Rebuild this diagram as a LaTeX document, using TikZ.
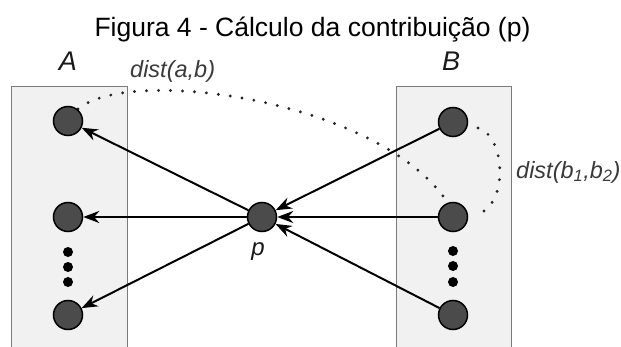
\documentclass[tikz,border=0pt]{standalone}
\usepackage{fontspec}
\setmainfont{Liberation Sans}
\usetikzlibrary{arrows.meta}
\definecolor{boxfill}{HTML}{F1F1F1}
\definecolor{boxline}{HTML}{7A7A7A}
\definecolor{nodefill}{HTML}{4B4B4B}
\definecolor{labgray}{HTML}{3A3A3A}
\tikzset{
  vtx/.style={circle, draw=black, line width=1.5pt, fill=nodefill, minimum size=29pt, inner sep=0pt},
  bigdot/.style={circle, fill=black, minimum size=10pt, inner sep=0pt},
  setbox/.style={draw=boxline, line width=1pt},
  conn/.style={line width=2pt, -{Stealth[length=16pt,width=12pt]}},
  dotline/.style={line width=3.2pt, line cap=round, dash pattern=on 0pt off 12pt, draw=black!85},
  setlabel/.style={font=\fontsize{27}{29}\selectfont\itshape, text=black!90, anchor=base},
  distlabel/.style={font=\fontsize{23.5}{26}\selectfont\itshape, text=labgray}
}
\begin{document}
\begin{tikzpicture}[x=1pt,y=-1pt]
\useasboundingbox (0,0) rectangle (621,347);
% title
\node[anchor=base, font=\fontsize{26.5}{28}\selectfont, inner sep=0pt] (title) at (312.5,37) {Figura 4 - Cálculo da contribuição (p)};
% boxes
\fill[boxfill] (11.5,87) rectangle (127.5,347);
\draw[setbox] (11.5,347) -- (11.5,87) -- (127.5,87) -- (127.5,347);
\fill[boxfill] (396,87) rectangle (511,347);
\draw[setbox] (396,347) -- (396,87) -- (511,87) -- (511,347);
% set labels
\node[setlabel, inner sep=0pt] (labA) at (68,71) {A};
\node[setlabel, inner sep=0pt] (labB) at (451,71) {B};
% vertex positions
\coordinate (a1c) at (68,121);
\coordinate (a2c) at (68,217);
\coordinate (a3c) at (68,315);
\coordinate (b1c) at (453,122);
\coordinate (b2c) at (453,217);
\coordinate (b3c) at (453,315);
\coordinate (pc) at (262,217);
% dotted curves
\coordinate (d1s) at (78,109);
\coordinate (d1e) at (448,203);
\draw[dotline] (d1s) .. controls (130,65) and (380,100) .. (d1e);
\coordinate (d2s) at (478,128);
\coordinate (d2e) at (476,215);
\draw[dotline] (d2s) .. controls (505,135) and (510,205) .. (d2e);
% nodes
\node[vtx] (a1) at (a1c) {};
\node[vtx] (a2) at (a2c) {};
\node[vtx] (a3) at (a3c) {};
\node[vtx] (b1) at (b1c) {};
\node[vtx] (b2) at (b2c) {};
\node[vtx] (b3) at (b3c) {};
\node[vtx] (p) at (pc) {};
% ellipsis dots
\node[bigdot] (ad1) at (68,252) {};
\node[bigdot] (ad2) at (68,267) {};
\node[bigdot] (ad3) at (68,282) {};
\node[bigdot] (bd1) at (453,251) {};
\node[bigdot] (bd2) at (453,266) {};
\node[bigdot] (bd3) at (453,282) {};
% connectors
\draw[conn] (p) -- (a1);
\draw[conn] (p) -- (a2);
\draw[conn] (p) -- (a3);
\draw[conn] (b1) -- (p);
\draw[conn] (b2) -- (p);
\draw[conn] (b3) -- (p);
% labels
\node[setlabel, font=\fontsize{24}{26}\selectfont\itshape, inner sep=0pt] (plab) at (258,256) {p};
\node[distlabel, anchor=base west, inner sep=0pt] (dab) at (130,78) {dist(a,b)};
\node[distlabel, anchor=west, inner sep=0pt] (db) at (516,172) {dist(b$_{\mathit{1}}$,b$_{\mathit{2}}$)};
\end{tikzpicture}
\end{document}
